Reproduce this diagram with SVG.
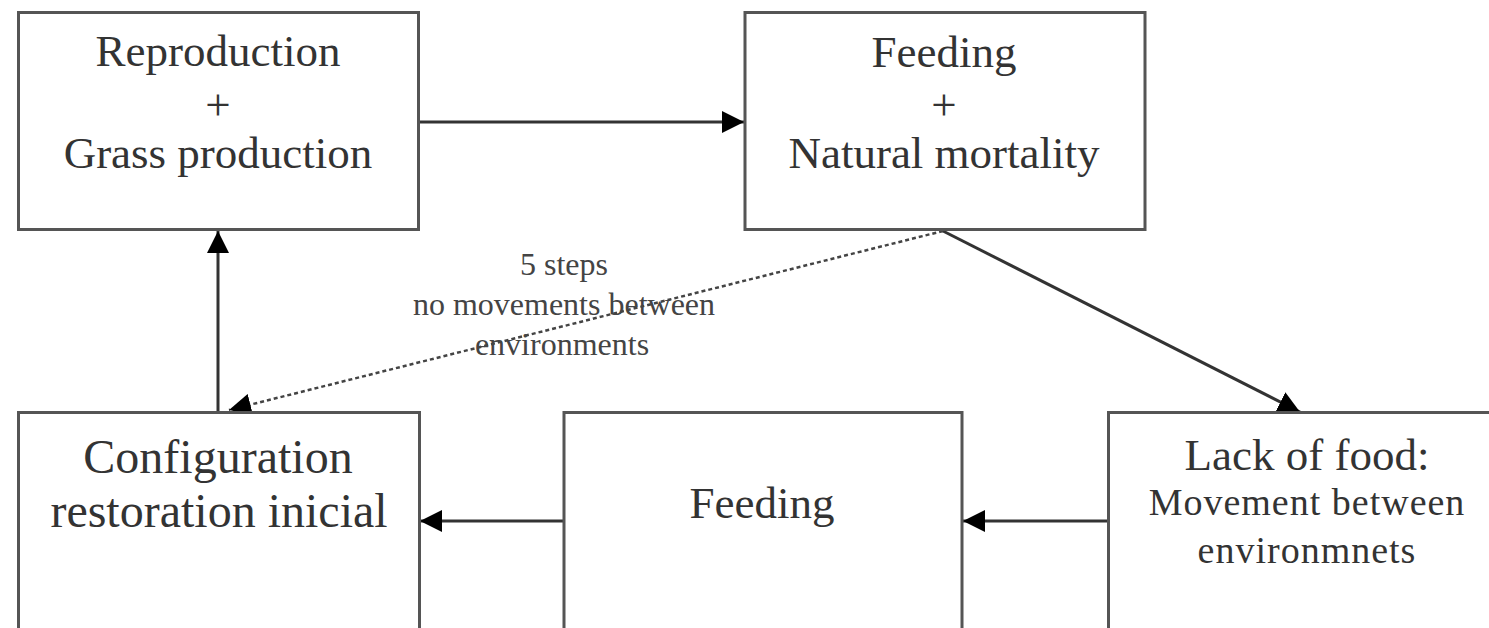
<svg xmlns="http://www.w3.org/2000/svg" width="1489" height="628" viewBox="0 0 1489 628">
  <style>
    .box { fill: #ffffff; stroke: #555555; stroke-width: 3; }
    .t { font-family: "Liberation Serif", "Times New Roman", serif; fill: #333333; text-anchor: middle; }
    .big { font-size: 45px; }
    .big2 { font-size: 48px; }
    .small { font-size: 38px; letter-spacing: 1px; }
    .lbl { font-family: "Liberation Serif", "Times New Roman", serif; fill: #444444; text-anchor: middle; font-size: 32px; }
    .conn { fill: none; stroke: #333333; stroke-width: 3; }
    .dash { fill: none; stroke: #444444; stroke-width: 2.5; stroke-dasharray: 4 3; }
  </style>
  <defs>
    <marker id="arrow" viewBox="0 0 22 22" refX="22" refY="11" markerWidth="22" markerHeight="22" markerUnits="userSpaceOnUse" orient="auto">
      <path d="M0,0 L22,11 L0,22 z" fill="#000000"/>
    </marker>
  </defs>
  <rect width="1489" height="628" fill="#ffffff"/>

  <g id="connectors">
    <path class="conn" d="M418,122 L744,122" marker-end="url(#arrow)"/>
    <path class="conn" d="M218,412 L218,231" marker-end="url(#arrow)"/>
    <path class="conn" d="M943,231 L1300,412" marker-end="url(#arrow)"/>
    <path class="dash" d="M943,231 L229,410" marker-end="url(#arrow)"/>
    <path class="conn" d="M1108,521 L963,521" marker-end="url(#arrow)"/>
    <path class="conn" d="M563,521 L420,521" marker-end="url(#arrow)"/>
    <g id="connector-label">
      <text class="lbl" x="564" y="275">5 steps</text>
      <text class="lbl" x="564" y="315">no movements between</text>
      <text class="lbl" x="562" y="355">environments</text>
    </g>
  </g>

  <g id="node-reproduction">
    <rect class="box" x="18.5" y="12.5" width="400" height="217"/>
    <text class="t big" x="218" y="66">Reproduction</text>
    <text class="t big" x="218" y="120">+</text>
    <text class="t big" x="218" y="168">Grass production</text>
  </g>

  <g id="node-feeding-mortality">
    <rect class="box" x="745" y="12.5" width="400" height="217"/>
    <text class="t big" x="944" y="67">Feeding</text>
    <text class="t big" x="944" y="120">+</text>
    <text class="t big" x="944" y="168">Natural mortality</text>
  </g>

  <g id="node-configuration">
    <rect class="box" x="18.5" y="412.5" width="401" height="230"/>
    <text class="t big2" x="218" y="473">Configuration</text>
    <text class="t big2" x="219" y="527">restoration inicial</text>
  </g>

  <g id="node-feeding">
    <rect class="box" x="564" y="412.5" width="398" height="230"/>
    <text class="t big" x="762" y="518">Feeding</text>
  </g>

  <g id="node-lack-of-food">
    <rect class="box" x="1108.5" y="412.5" width="400" height="230"/>
    <text class="t big" x="1307" y="470">Lack of food:</text>
    <text class="t small" x="1307" y="515">Movement between</text>
    <text class="t small" x="1307" y="563">environmnets</text>
  </g>
</svg>
